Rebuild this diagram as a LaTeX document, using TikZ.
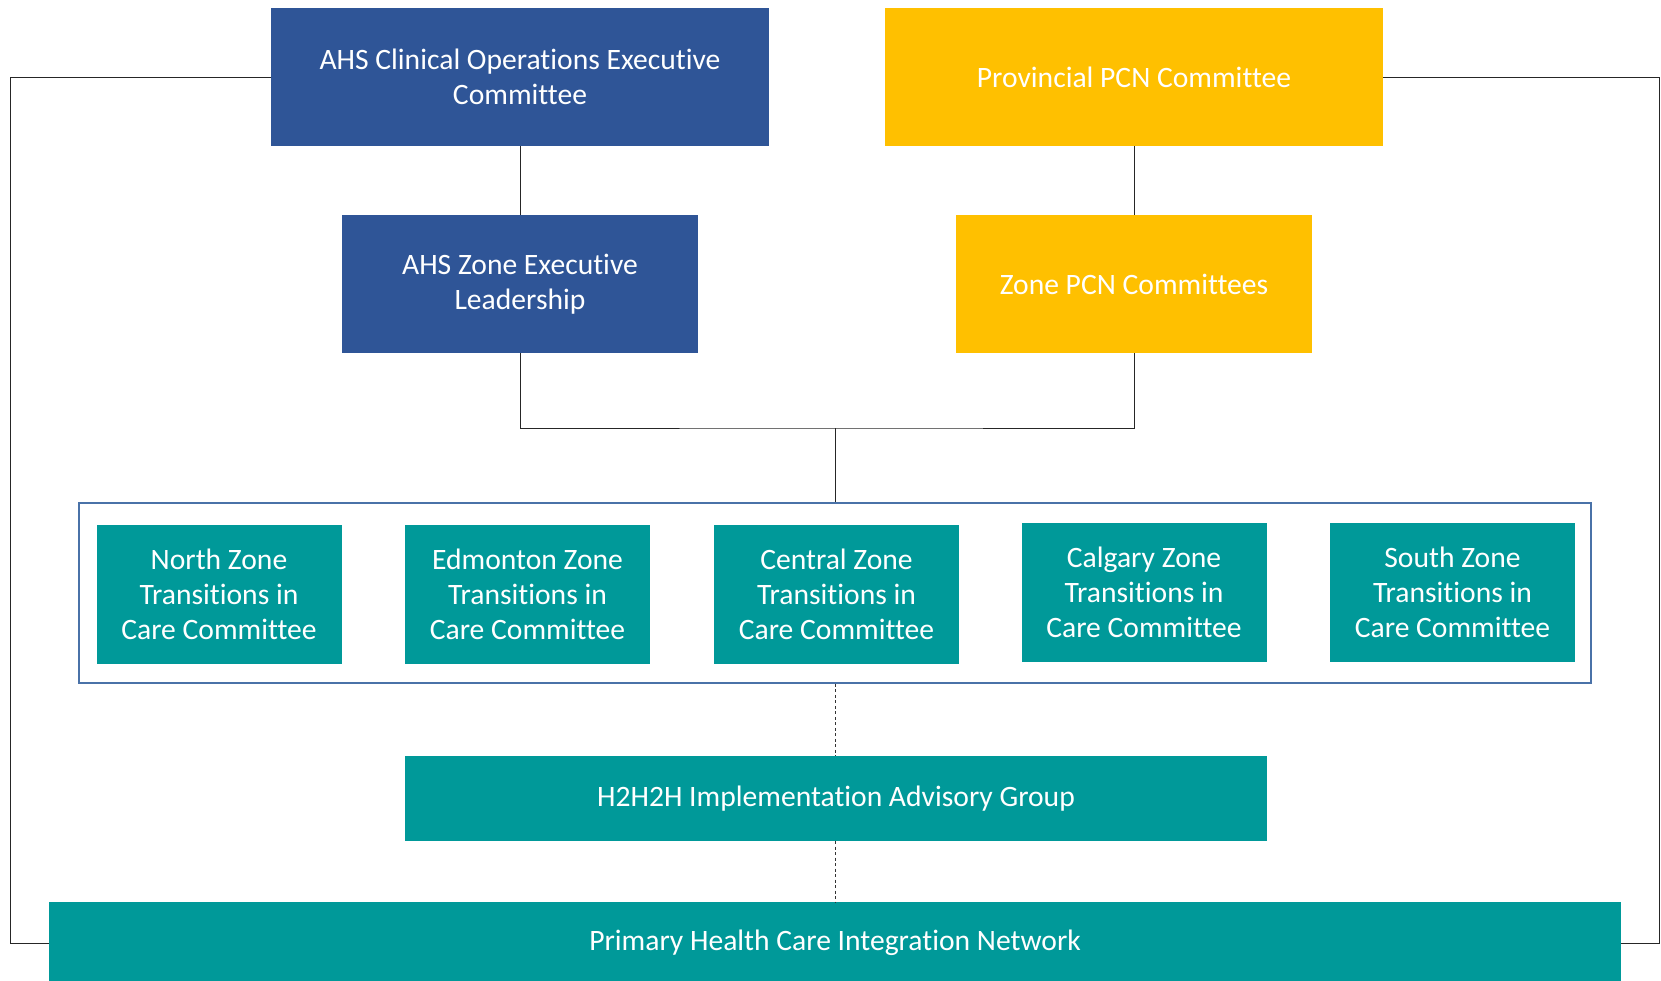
\documentclass[tikz,border=0pt]{standalone}
\usepackage{fontspec}
\setmainfont{Carlito}[Ligatures=NoCommon]
\definecolor{ahsblue}{HTML}{2F5597}
\definecolor{pcngold}{HTML}{FFC000}
\definecolor{careteal}{HTML}{009999}
\definecolor{framesteel}{HTML}{4A72A8}
\begin{document}
\begin{tikzpicture}[x=1pt,y=-1pt,
  box/.style={inner sep=0pt, outer sep=0pt, align=center, text=white,
    font=\fontsize{29.6}{35}\selectfont},
  ahs/.style={box, fill=ahsblue},
  pcn/.style={box, fill=pcngold},
  care/.style={box, fill=careteal},
  link/.style={draw=black!85, line width=0.9pt},
  dotlink/.style={draw=black!80, line width=0.8pt, dash pattern=on 3pt off 2.5pt}]
\useasboundingbox (0,0) rectangle (1661,980);

% top tier
\node[ahs, minimum width=498, minimum height=138] (clin) at (520,77)
  {AHS Clinical Operations Executive\\Committee};
\node[pcn, minimum width=498, minimum height=138] (prov) at (1134,77)
  {Provincial PCN Committee};

% second tier
\node[ahs, minimum width=356, minimum height=138] (zexec) at (520,284)
  {AHS Zone Executive\\Leadership};
\node[pcn, minimum width=356, minimum height=138] (zpcn) at (1134,284)
  {Zone PCN Committees};

% zone committees group
\node[draw=framesteel, line width=1.5pt, fill=white, inner sep=0pt,
  minimum width=1512, minimum height=180] (grp) at (835,593) {};
\node[care, minimum width=245, minimum height=139] (north) at (219,594)
  {North Zone\\Transitions in\\Care Committee};
\node[care, minimum width=245, minimum height=139] (edm) at (527.5,594)
  {Edmonton Zone\\Transitions in\\Care Committee};
\node[care, minimum width=245, minimum height=139] (cent) at (836.5,594)
  {Central Zone\\Transitions in\\Care Committee};
\node[care, minimum width=245, minimum height=139] (calg) at (1144,592)
  {Calgary Zone\\Transitions in\\Care Committee};
\node[care, minimum width=245, minimum height=139] (south) at (1452.5,592)
  {South Zone\\Transitions in\\Care Committee};

% advisory group and network
\node[care, minimum width=862, minimum height=85] (h2h) at (836,798.5)
  {H2H2H Implementation Advisory Group};
\node[care, minimum width=1572, minimum height=82] (phc) at (835,943)
  {Primary Health Care Integration Network};

% reporting lines
\draw[link] (clin.south) -- (zexec.north);
\draw[link] (prov.south) -- (zpcn.north);
\coordinate (junc) at (835,428);
\draw[link] (zexec.south) |- (junc) -| (zpcn.south);
\draw[link] (junc) -- (grp.north);

% advisory links
\draw[dotlink] (grp.south) -- (grp.south |- h2h.north);
\draw[dotlink] (grp.south |- h2h.south) -- (grp.south |- phc.north);

% outer links to the network
\coordinate (lturn) at (10.6,77);
\coordinate (rturn) at (1659,77);
\draw[link] (clin.west) -- (lturn) |- (phc.west);
\draw[link] (prov.east) -- (rturn) |- (phc.east);
\end{tikzpicture}
\end{document}
